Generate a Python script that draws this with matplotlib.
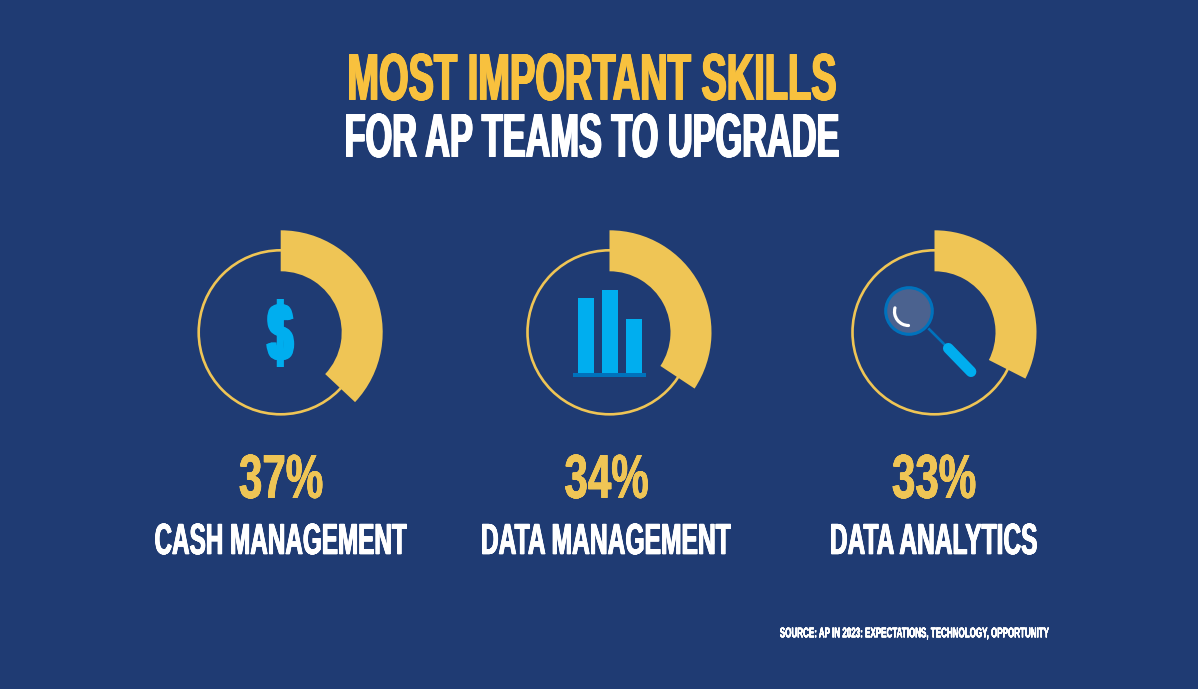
import matplotlib
matplotlib.use("Agg")
import matplotlib.pyplot as plt
import numpy as np
from matplotlib.font_manager import FontProperties
from matplotlib.patches import Circle, Wedge, Rectangle, Arc
from matplotlib.patheffects import AbstractPathEffect
from matplotlib.textpath import TextPath
from matplotlib.transforms import Affine2D

BG = "#1f3b73"
GOLD = "#efc555"
TITLE_GOLD = "#f8c13e"
BLUE = "#00aeef"
DARK_BLUE = "#0072bc"

title_top = "MOST IMPORTANT SKILLS"
title_bottom = "FOR AP TEAMS TO UPGRADE"
labels = ["CASH MANAGEMENT", "DATA MANAGEMENT", "DATA ANALYTICS"]
values = [37, 34, 33]
# share of the ring each arc really covers in the picture, not quite the printed number
arc_shares = [37.0, 34.3, 32.5]
source = "SOURCE: AP IN 2023: EXPECTATIONS, TECHNOLOGY, OPPORTUNITY"
icon_bars = [75.3, 82.7, 53.7]

centres_x = [280.7, 609.5, 934.5]
text_x = [281, 606.5, 934]
label_w = [252, 249, 206]
CENTRE_Y = 689 - 332.3
R_OUT, R_IN, R_RING = 102, 61, 82
PROP = FontProperties(family="Liberation Sans", weight="bold")


class FitBox(AbstractPathEffect):
    """Stretch the glyph outlines into a box, no condensed display font is installed."""

    def __init__(self, centre, width, height, bold=0.0):
        super().__init__()
        self.centre = centre
        self.width = width
        self.height = height
        self.bold = bold

    def draw_path(self, renderer, gc, tpath, affine, rgbFace=None):
        bb = tpath.get_extents(affine)
        fit = (affine + Affine2D()
               .translate(-(bb.x0 + bb.x1) / 2, -(bb.y0 + bb.y1) / 2)
               .scale((self.width - 2 * self.bold) / bb.width, self.height / bb.height)
               .translate(*self.centre))
        # smear sideways to get the heavy vertical stems without making it taller
        for dx in np.linspace(-self.bold, self.bold, 7):
            renderer.draw_path(gc, tpath, fit + Affine2D().translate(dx, 0), rgbFace)


def fit_text(ax, x, y, s, width, height, color, bold=0.0):
    # x, y is the middle of the text box in reference pixels, y from the top
    natural = TextPath((0, 0), s, size=10, prop=PROP).get_extents().width
    size = 10 * width / natural * 72 / 100
    t = ax.text(x, 689 - y, s, color=color, ha="center", va="center", fontproperties=PROP)
    t.set_fontsize(size)
    t.set_path_effects([FitBox(ax.transData.transform((x, 689 - y)), width, height, bold)])
    return t


fig = plt.figure(figsize=(11.98, 6.89), dpi=100, facecolor=BG)
ax = fig.add_axes([0, 0, 1, 1])
ax.set_xlim(0, 1198)
ax.set_ylim(0, 689)
ax.axis("off")

fit_text(ax, 592.5, 77, title_top, 487, 47, TITLE_GOLD, 0.9)
fit_text(ax, 592.5, 135.5, title_bottom, 493, 44, "white", 0.9)

for x, tx, value, share, name, w in zip(centres_x, text_x, values, arc_shares, labels, label_w):
    ax.add_patch(Circle((x, CENTRE_Y), R_RING, fill=False, ec=GOLD, lw=1.9))
    ax.add_patch(Wedge((x, CENTRE_Y), R_OUT, 90 - share * 3.6, 90, width=R_OUT - R_IN, fc=GOLD, ec="none"))
    fit_text(ax, tx, 476.5, f"{value}%", 83, 44, GOLD, 0.4)
    fit_text(ax, tx, 539, name, w, 31, "white", 0.5)

fit_text(ax, 914.5, 633.5, source, 269, 12, "white", 0.1)

# dollar icon
fit_text(ax, 280.2, 333, "$", 28, 68, BLUE, 2.4)

# bar icon
bar_x = [578, 602, 626]
for bx, h in zip(bar_x, icon_bars):
    ax.add_patch(Rectangle((bx, 689 - 373), 16, h, fc=BLUE, ec="none"))
ax.add_patch(Rectangle((573.3, 689 - 376.7), 72.4, 3.7, fc=DARK_BLUE, ec="none"))

# magnifier icon
mx, my = 909, 689 - 311
ax.plot([928.3, 945], [689 - 328.3, 689 - 345], color=DARK_BLUE, lw=1.9, solid_capstyle="butt")
ax.plot([948.3, 971], [689 - 348.3, 689 - 371.7], color=BLUE, lw=7.7, solid_capstyle="round")
ax.add_patch(Circle((mx, my), 23.3, fc="#4b628f", ec=DARK_BLUE, lw=2.2))
ax.add_patch(Arc((mx - 0.5, my - 0.5), 28, 28, theta1=165, theta2=270, ec="white", lw=2.3, capstyle="round"))

fig.savefig("out.png", dpi=100, facecolor=BG)
